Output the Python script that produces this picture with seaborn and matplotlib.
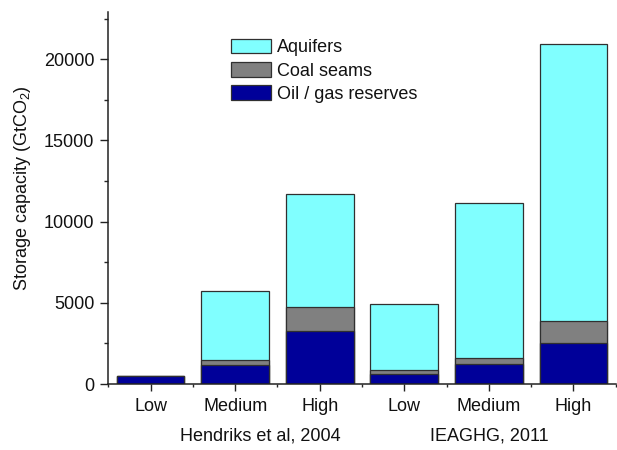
import matplotlib
matplotlib.use("Agg")
import matplotlib.pyplot as plt
from matplotlib.patches import Patch
from matplotlib.ticker import MultipleLocator
import numpy as np
import pandas as pd
import seaborn as sns

# Storage capacity estimates (GtCO2) by study and scenario
studies = ["Hendriks et al, 2004", "IEAGHG, 2011"]
scenarios = ["Low", "Medium", "High"]
oil_gas = [470, 1170, 3260, 600, 1210, 2540]
coal_seams = [20, 290, 1480, 245, 370, 1320]
aquifers = [20, 4250, 6940, 4065, 9550, 17060]

series_names = ["Aquifers", "Coal seams", "Oil / gas reserves"]
colors = {"Aquifers": "#80FFFF", "Coal seams": "#808080", "Oil / gas reserves": "#000099"}

keys = [f"{s} | {c}" for s in studies for c in scenarios]
df = pd.DataFrame({
    "key": keys,
    "oil": oil_gas,
    "coal": coal_seams,
    "aquifers": aquifers,
})
# cumulative heights so each layer sits on top of the one below
df["top_oil"] = df["oil"]
df["top_coal"] = df["oil"] + df["coal"]
df["top_aq"] = df["oil"] + df["coal"] + df["aquifers"]

sns.set_style("ticks")
plt.rcParams["font.family"] = ["Liberation Sans", "DejaVu Sans"]
plt.rcParams["mathtext.fontset"] = "custom"
plt.rcParams["mathtext.rm"] = "Liberation Sans"
plt.rcParams["mathtext.it"] = "Liberation Sans"
for key in ("text.color", "axes.labelcolor", "xtick.labelcolor", "ytick.labelcolor"):
    plt.rcParams[key] = "#111111"

fig = plt.figure(figsize=(6.17, 4.5), dpi=100)
ax = fig.add_axes([0.1755, 0.1465, 0.8225, 0.8265])

edge = "#303030"
for col, name in [("top_aq", "Aquifers"), ("top_coal", "Coal seams"), ("top_oil", "Oil / gas reserves")]:
    sns.barplot(data=df, x="key", y=col, order=keys, color=colors[name],
                saturation=1, width=0.8, edgecolor=edge, linewidth=0.9, ax=ax)

ax.set_xlim(-0.5, len(keys) - 0.5)
ax.set_ylim(0, 22900)
ax.set_xticks(range(len(keys)))
ax.set_xticklabels(scenarios * len(studies))
ax.set_xticks(np.arange(-0.5, len(keys), 1.0), minor=True)
ax.yaxis.set_major_locator(MultipleLocator(5000))
ax.yaxis.set_minor_locator(MultipleLocator(2500))
ax.set_xlabel("")
ax.set_ylabel("Storage capacity (GtCO$_2$)", fontsize=13)
ax.yaxis.set_label_coords(-0.148, 0.526)

ax.tick_params(axis="both", which="major", labelsize=13, direction="out", width=1, color="#222222")
ax.tick_params(axis="y", which="major", length=6, pad=4)
ax.tick_params(axis="y", which="minor", length=3, width=1)
ax.tick_params(axis="x", which="major", length=5, pad=5)
ax.tick_params(axis="x", which="minor", length=2.5, width=1)

sns.despine(ax=ax, top=True, right=True)
for sp in ("left", "bottom"):
    ax.spines[sp].set_linewidth(1.1)
    ax.spines[sp].set_color("#222222")

# study names under each scenario group
xt = ax.get_xaxis_transform()
ax.text(1.30, -0.14, studies[0], transform=xt, ha="center", va="center", fontsize=13)
ax.text(4.0, -0.14, studies[1], transform=xt, ha="center", va="center", fontsize=13)

handles = [Patch(facecolor=colors[n], edgecolor=edge, linewidth=0.9, label=n) for n in series_names]
ax.legend(handles=handles, loc="upper left", bbox_to_anchor=(0.242, 0.929), frameon=False,
          fontsize=13, handlelength=2.2, handleheight=0.86, handletextpad=0.33,
          labelspacing=0.33, borderpad=0, borderaxespad=0)

fig.savefig("out.png", dpi=100)
